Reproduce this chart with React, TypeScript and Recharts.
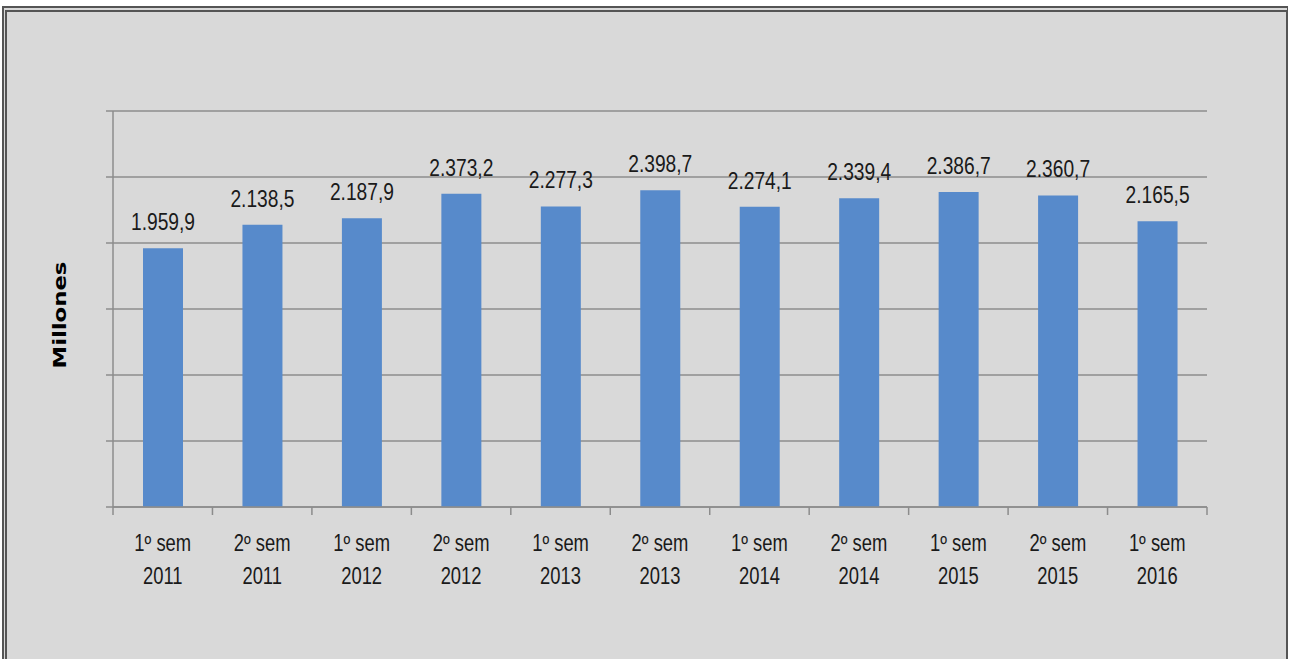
import { BarChart, Bar, XAxis, YAxis, CartesianGrid, LabelList } from 'recharts';

const periods = ['1º sem 2011', '2º sem 2011', '1º sem 2012', '2º sem 2012', '1º sem 2013', '2º sem 2013', '1º sem 2014', '2º sem 2014', '1º sem 2015', '2º sem 2015', '1º sem 2016'];
const millones = [1959.9, 2138.5, 2187.9, 2373.2, 2277.3, 2398.7, 2274.1, 2339.4, 2386.7, 2360.7, 2165.5];
const yTicks = [0, 500, 1000, 1500, 2000, 2500, 3000];

const data = periods.map((p, i) => ({ period: p, value: millones[i] }));

const FONT = "'Liberation Sans', Arial, sans-serif";
const SQUEEZE = 0.8;
const AXIS = '#8c8c8c';

// 1959.9 -> "1.959,9"
const fmt = (v: number) => {
  const [int, dec] = v.toFixed(1).split('.');
  return int.replace(/\B(?=(\d{3})+(?!\d))/g, '.') + ',' + dec;
};

const Narrow = ({ x, y, size, children }: any) => (
  <text transform={`translate(${x},${y}) scale(${SQUEEZE},1)`} textAnchor="middle" fontSize={size} fontFamily={FONT} fill="#1a1a1a">
    {children}
  </text>
);

// excel style: tick marks sit on the category boundaries
const PeriodTick = (props: any) => {
  const { x, y, payload, index } = props;
  const half = payload.offset ?? 49.7;
  const [sem, s, year] = String(payload.value).split(' ');
  return (
    <g>
      <line x1={x - half} x2={x - half} y1={y} y2={y + 8} stroke={AXIS} strokeWidth={1.5} />
      {index === periods.length - 1 && (
        <line x1={x + half} x2={x + half} y1={y} y2={y + 8} stroke={AXIS} strokeWidth={1.5} />
      )}
      <Narrow x={x} y={y + 44} size={23}>{`${sem} ${s}`}</Narrow>
      <Narrow x={x} y={y + 77} size={23}>{year}</Narrow>
    </g>
  );
};

// no value labels on the y axis, only the little tick marks
const BlankYTick = (props: any) => {
  const { x, y } = props;
  return <line x1={x} x2={x + 7} y1={y} y2={y} stroke={AXIS} strokeWidth={1.5} />;
};

const ValueLabel = (props: any) => {
  const { x, y, width, value } = props;
  return <Narrow x={x + width / 2} y={y - 18} size={24}>{fmt(Number(value))}</Narrow>;
};

const YTitle = () => (
  <text transform="translate(66,315) rotate(-90) scale(1.3,1)" textAnchor="middle" fontSize={17.5} fontWeight="bold" fontFamily="'DejaVu Sans', sans-serif" fill="#000">
    Millones
  </text>
);

export default function App() {
  return (
    <div style={{ position: 'absolute', left: 0, top: 0, width: 1290, height: 659, background: '#fff', overflow: 'hidden' }}>
      <div style={{ position: 'absolute', left: 2, top: 6, width: 1286, height: 680, boxSizing: 'border-box', background: '#d9d9d9', borderTop: '6px double #555', borderLeft: '5px double #555', borderRight: '2px solid #555' }} />
      <div style={{ position: 'absolute', left: 0, top: 0 }}>
        <BarChart width={1290} height={659} data={data} margin={{ top: 111, right: 83, left: 103, bottom: 52 }}>
          <CartesianGrid vertical={false} stroke={AXIS} strokeWidth={1.5} />
          <YAxis
            width={10}
            domain={[0, 3000]}
            ticks={yTicks}
            tick={<BlankYTick />}
            tickSize={7}
            tickMargin={0}
            tickLine={false}
            axisLine={{ stroke: AXIS, strokeWidth: 1.5 }}
            label={<YTitle />}
          />
          <XAxis
            dataKey="period"
            height={100}
            tickSize={0}
            tickMargin={0}
            tickLine={false}
            interval={0}
            axisLine={{ stroke: AXIS, strokeWidth: 1.5 }}
            tick={<PeriodTick />}
          />
          <Bar dataKey="value" fill="#578acb" barSize={40} isAnimationActive={false}>
            <LabelList dataKey="value" content={<ValueLabel />} />
          </Bar>
        </BarChart>
      </div>
    </div>
  );
}
